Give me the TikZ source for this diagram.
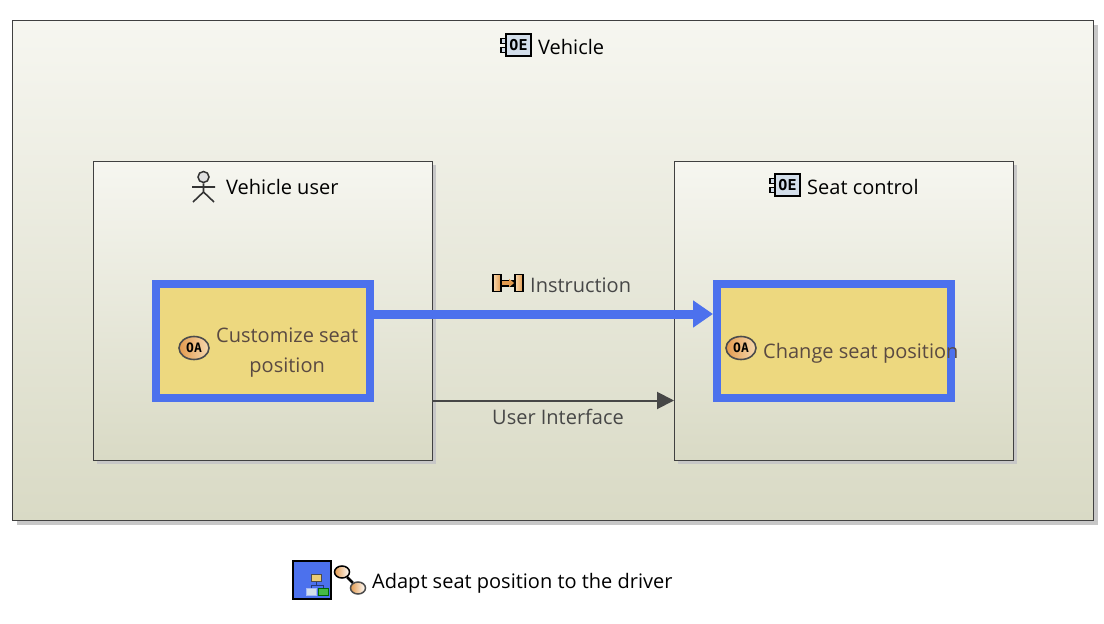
\documentclass[tikz,border=0pt]{standalone}
\usepackage{fontspec}
\setmainfont{Open Sans}
\newfontfamily\iconfont{DejaVu Sans Mono}
\usetikzlibrary{shadows,arrows.meta,shapes.geometric}
\definecolor{blockTop}{HTML}{F6F6F0}
\definecolor{blockBottom}{HTML}{D9DAC5}
\definecolor{funcFill}{HTML}{EDD87F}
\definecolor{funcBlue}{HTML}{4C71ED}
\definecolor{funcText}{HTML}{5A4A42}
\definecolor{edgeGray}{HTML}{474747}
\definecolor{iconOrange}{HTML}{E39A4E}
\definecolor{iconPale}{HTML}{F6D9B0}
\definecolor{iconBlue}{HTML}{D3DEEA}
\tikzset{
	block/.style={draw=black!75, line width=1pt, top color=blockTop, bottom color=blockBottom, outer sep=0pt,
		general shadow={shadow xshift=4pt, shadow yshift=-4pt, fill=black!22}, inner sep=0pt, anchor=north west},
	func/.style={draw=funcBlue, line width=8pt, fill=funcFill, inner sep=0pt, anchor=north west},
	title/.style={inner sep=0pt, text=black, font=\fontsize{20}{24}\selectfont, anchor=west},
	elabel/.style={inner sep=0pt, text=edgeGray, font=\fontsize{20}{24}\selectfont, anchor=west},
	flabel/.style={inner sep=0pt, text=funcText, font=\fontsize{20}{30}\selectfont, align=center, anchor=west},
	oeicon/.style={draw=black, line width=1.8pt, fill=iconBlue, minimum width=25pt, minimum height=22pt,
		inner sep=0pt, font=\iconfont\bfseries\fontsize{15}{15}\selectfont},
	oetab/.style={draw=black, line width=1.5pt, fill=iconBlue, minimum width=6pt, minimum height=5pt, inner sep=0pt},
	oaicon/.style={ellipse, draw=black!70, line width=1.6pt, minimum width=30pt, minimum height=23pt, inner sep=0pt,
		left color=iconOrange, right color=iconPale, font=\iconfont\bfseries\fontsize{13}{13}\selectfont},
	linkend/.style={ellipse, line width=1.5pt, left color=iconOrange, right color=white, minimum width=15pt, minimum height=12pt, inner sep=0pt},
	extab/.style={draw=black, line width=1.8pt, left color=iconPale, right color=iconOrange, minimum width=8pt, minimum height=17pt, inner sep=0pt},
	treebox/.style={line width=1pt, minimum width=10pt, minimum height=7pt, inner sep=0pt},
}
\begin{document}
\begin{tikzpicture}[x=1pt, y=-1pt]
	\useasboundingbox (0,0) rectangle (1104,624);

	\node[block, minimum width=1081pt, minimum height=500pt] (vehicle) at (12.5,20.5) {};
	\node[block, minimum width=339pt, minimum height=299pt] (vuser) at (93,161) {};
	\node[block, minimum width=339pt, minimum height=299pt] (seat) at (674,161) {};
	\node[func, minimum width=214pt, minimum height=114pt] (customize) at (152,280) {};
	\node[func, minimum width=234pt, minimum height=114pt] (change) at (713,280) {};

	\draw[funcBlue, line width=9pt, -{Triangle[length=20pt, width=26pt]}] ([yshift=27pt]customize.east) -- ([yshift=27pt]change.west);
	\draw[edgeGray, line width=2pt, -{Triangle[length=17pt, width=17pt]}] ([yshift=-90pt]vuser.east) -- ([yshift=-90pt]seat.west);

	% Titles
	\node[oetab] (tab1) at (504,41) {};
	\node[oetab] (tab2) at (504,50) {};
	\node[oeicon] (oe1) at (518.5,45) {OE};
	\node[title] (t1) at (538,47) {Vehicle};
	\node[title] (t2) at (226,187) {Vehicle user};
	\node[oetab] (tab3) at (773,181) {};
	\node[oetab] (tab4) at (773,190) {};
	\node[oeicon] (oe2) at (787.5,185) {OE};
	\node[title] (t3) at (807,187) {Seat control};

	% Actor
	\node[circle, draw=black!80, line width=1.5pt, fill=black!12, minimum size=11pt, inner sep=0pt] (head) at (203.5,177) {};
	\coordinate (hip) at (203.5,192);
	\coordinate (footl) at (193,202);
	\coordinate (footr) at (214,202);
	\coordinate (arml) at (192,187);
	\coordinate (armr) at (215,187);
	\draw[black!80, line width=1.6pt] (head) -- (hip) (footl) -- (hip) -- (footr) (arml) -- (armr);

	% Function labels
	\node[oaicon] (oa1) at (194,348) {OA};
	\node[flabel] (f1) at (216,352.5) {Customize seat\\position};
	\node[oaicon] (oa2) at (741,348) {OA};
	\node[flabel] (f2) at (763,353) {Change seat position};

	% Edge labels
	\node[extab] (exl) at (497,283) {};
	\node[extab] (exr) at (519,283) {};
	\draw[black, line width=7pt] (exl) -- (exr);
	\draw[iconOrange, line width=4pt, -{Triangle[length=5pt, width=8pt]}] (exl) -- (exr);
	\node[elabel] (e1) at (530,285) {Instruction};
	\node[elabel] (e2) at (492,417) {User Interface};

	% Legend
	\node[draw=black, line width=2pt, fill=funcBlue, minimum size=38pt, inner sep=0pt] (leg) at (312,579.5) {};
	\node[treebox, draw=black!70, fill=funcFill!80!iconOrange] (leg1) at (316,578) {};
	\node[treebox, draw=funcBlue!50!white, fill=iconBlue] (leg2) at (311,591.5) {};
	\node[treebox, draw=green!40!black, fill=green!45!gray] (leg3) at (323,591.5) {};
	\draw[funcBlue!50!black, line width=1pt] (leg1) -- ++(0,7) -| (leg2) (leg1) -- ++(0,7) -| (leg3);
	\node[linkend, draw=black] (link1) at (342,572) {};
	\node[linkend, draw=black!70] (link2) at (358,588) {};
	\draw[black, line width=2.5pt] (link1) -- (link2);
	\node[title] (t4) at (372,583) {Adapt seat position to the driver};
\end{tikzpicture}
\end{document}
